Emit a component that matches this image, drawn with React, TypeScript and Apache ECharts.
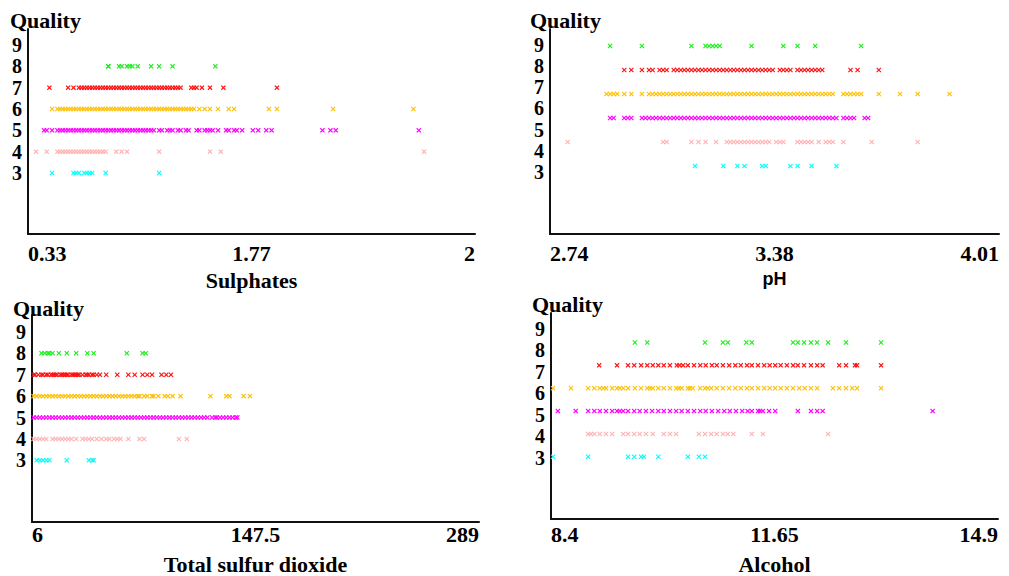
import React, { useEffect, useRef } from "react";
import * as echarts from "echarts";

// ---------- DATA ----------
const qualityLevels = [8, 7, 6, 5, 4, 3];
const qualityTickValues = [3, 4, 5, 6, 7, 8, 9];
const qualityTickLabels = ["3", "4", "5", "6", "7", "8", "9"];

// Sulphates
const sulTickLabels = ["0.33", "1.77", "2"];
const sulQ8 = [0.63, 0.63, 0.67, 0.68, 0.7, 0.71, 0.72, 0.74, 0.79, 0.82, 0.87, 1.03];
const sulQ7 = [0.41, 0.48, 0.5, 0.52, 0.53, 0.54, 0.55, 0.56, 0.57, 0.58, 0.59, 0.6, 0.61, 0.62, 0.63, 0.64, 0.65, 0.66, 0.67, 0.68, 0.69, 0.7, 0.71, 0.72, 0.73, 0.74, 0.75, 0.76, 0.77, 0.78, 0.79, 0.8, 0.81, 0.82, 0.83, 0.84, 0.85, 0.86, 0.87, 0.88, 0.89, 0.9, 0.94, 0.95, 0.96, 0.98, 1.01, 1.06, 1.26];
const sulQ6 = [0.42, 0.44, 0.45, 0.46, 0.47, 0.48, 0.49, 0.5, 0.51, 0.52, 0.53, 0.54, 0.55, 0.56, 0.57, 0.58, 0.59, 0.6, 0.61, 0.62, 0.63, 0.64, 0.65, 0.66, 0.67, 0.68, 0.69, 0.7, 0.71, 0.72, 0.73, 0.74, 0.75, 0.76, 0.77, 0.78, 0.79, 0.8, 0.81, 0.82, 0.83, 0.84, 0.85, 0.86, 0.87, 0.88, 0.89, 0.9, 0.91, 0.92, 0.93, 0.94, 0.95, 0.97, 0.99, 1.01, 1.04, 1.08, 1.1, 1.23, 1.26, 1.47, 1.77];
const sulQ5 = [0.39, 0.4, 0.42, 0.44, 0.45, 0.46, 0.47, 0.48, 0.49, 0.5, 0.51, 0.52, 0.53, 0.54, 0.55, 0.56, 0.57, 0.58, 0.59, 0.6, 0.61, 0.62, 0.63, 0.64, 0.65, 0.66, 0.67, 0.68, 0.69, 0.7, 0.71, 0.72, 0.73, 0.74, 0.75, 0.76, 0.77, 0.78, 0.79, 0.8, 0.82, 0.83, 0.85, 0.86, 0.87, 0.89, 0.9, 0.92, 0.93, 0.96, 0.97, 0.99, 1.0, 1.01, 1.02, 1.04, 1.07, 1.08, 1.1, 1.11, 1.13, 1.17, 1.19, 1.22, 1.24, 1.43, 1.46, 1.48, 1.79];
const sulQ4 = [0.36, 0.4, 0.44, 0.45, 0.46, 0.47, 0.48, 0.49, 0.5, 0.51, 0.52, 0.53, 0.54, 0.55, 0.56, 0.57, 0.58, 0.59, 0.6, 0.61, 0.62, 0.66, 0.68, 0.7, 0.82, 1.01, 1.05, 1.81];
const sulQ3 = [0.42, 0.5, 0.51, 0.52, 0.54, 0.55, 0.56, 0.57, 0.62, 0.82];

// pH
const phTickLabels = ["2.74", "3.38", "4.01"];
const phQ8 = [2.91, 3.0, 3.14, 3.18, 3.19, 3.2, 3.21, 3.22, 3.31, 3.4, 3.44, 3.49, 3.62];
const phQ7 = [2.95, 2.97, 3.0, 3.02, 3.03, 3.05, 3.06, 3.07, 3.09, 3.1, 3.11, 3.12, 3.13, 3.14, 3.15, 3.16, 3.17, 3.18, 3.19, 3.2, 3.21, 3.22, 3.23, 3.24, 3.25, 3.26, 3.27, 3.28, 3.29, 3.3, 3.31, 3.32, 3.33, 3.34, 3.35, 3.36, 3.37, 3.39, 3.4, 3.41, 3.42, 3.44, 3.45, 3.46, 3.47, 3.48, 3.49, 3.5, 3.51, 3.59, 3.61, 3.67];
const phQ6 = [2.9, 2.91, 2.92, 2.93, 2.95, 2.97, 3.0, 3.02, 3.03, 3.04, 3.05, 3.06, 3.07, 3.08, 3.09, 3.1, 3.11, 3.12, 3.13, 3.14, 3.15, 3.16, 3.17, 3.18, 3.19, 3.2, 3.21, 3.22, 3.23, 3.24, 3.25, 3.26, 3.27, 3.28, 3.29, 3.3, 3.31, 3.32, 3.33, 3.34, 3.35, 3.36, 3.37, 3.38, 3.39, 3.4, 3.41, 3.42, 3.43, 3.44, 3.45, 3.46, 3.47, 3.48, 3.49, 3.5, 3.51, 3.52, 3.53, 3.54, 3.57, 3.58, 3.59, 3.6, 3.61, 3.62, 3.67, 3.73, 3.78, 3.87];
const phQ5 = [2.91, 2.92, 2.95, 2.96, 2.97, 3.0, 3.01, 3.02, 3.03, 3.04, 3.05, 3.06, 3.07, 3.08, 3.09, 3.1, 3.11, 3.12, 3.13, 3.14, 3.15, 3.16, 3.17, 3.18, 3.19, 3.2, 3.21, 3.22, 3.23, 3.24, 3.25, 3.26, 3.27, 3.28, 3.29, 3.3, 3.31, 3.32, 3.33, 3.34, 3.35, 3.36, 3.37, 3.38, 3.39, 3.4, 3.41, 3.42, 3.43, 3.44, 3.45, 3.46, 3.47, 3.48, 3.49, 3.5, 3.51, 3.52, 3.53, 3.54, 3.55, 3.57, 3.58, 3.59, 3.6, 3.63, 3.64];
const phQ4 = [2.79, 3.06, 3.07, 3.14, 3.16, 3.18, 3.21, 3.24, 3.25, 3.26, 3.27, 3.28, 3.29, 3.3, 3.31, 3.32, 3.33, 3.34, 3.35, 3.36, 3.38, 3.39, 3.4, 3.44, 3.45, 3.46, 3.47, 3.48, 3.5, 3.52, 3.53, 3.54, 3.57, 3.65, 3.78];
const phQ3 = [3.15, 3.23, 3.27, 3.29, 3.34, 3.35, 3.42, 3.44, 3.48, 3.55];

// Total sulfur dioxide
const tsdTickLabels = ["6", "147.5", "289"];
const tsdQ8 = [12, 14, 16, 17, 19, 23, 28, 34, 41, 45, 66, 76, 78];
const tsdQ7 = [7, 8, 10, 12, 13, 15, 16, 18, 19, 20, 21, 22, 24, 25, 26, 27, 28, 29, 31, 32, 33, 34, 35, 36, 38, 40, 41, 42, 44, 45, 47, 49, 53, 60, 67, 71, 76, 79, 82, 88, 91, 94];
const tsdQ6 = [7, 9, 11, 13, 15, 17, 19, 21, 23, 25, 27, 29, 31, 33, 35, 37, 39, 41, 43, 45, 47, 49, 51, 53, 55, 57, 59, 61, 63, 65, 67, 69, 71, 73, 74, 77, 79, 82, 83, 86, 90, 92, 95, 100, 119, 129, 131, 140, 144];
const tsdQ5 = [7, 9, 11, 13, 15, 17, 19, 21, 23, 25, 27, 29, 31, 33, 35, 37, 39, 41, 43, 45, 47, 49, 51, 53, 55, 57, 59, 61, 63, 65, 67, 69, 71, 73, 75, 77, 79, 81, 83, 85, 87, 89, 91, 93, 95, 97, 99, 101, 103, 105, 107, 109, 111, 113, 115, 117, 120, 122, 123, 125, 127, 129, 131, 133, 135, 136];
const tsdQ4 = [7, 9, 11, 13, 15, 19, 21, 23, 25, 27, 29, 31, 34, 38, 40, 42, 44, 47, 50, 53, 55, 58, 60, 62, 67, 74, 77, 99, 104];
const tsdQ3 = [9, 11, 13, 15, 17, 28, 42, 44, 45];

// Alcohol
const alcTickLabels = ["8.4", "11.65", "14.9"];
const alcQ8 = [9.62, 9.8, 10.64, 10.9, 10.97, 11.24, 11.32, 11.92, 11.99, 12.08, 12.18, 12.27, 12.43, 12.69, 13.2];
const alcQ7 = [9.1, 9.36, 9.52, 9.61, 9.71, 9.8, 9.88, 9.96, 10.04, 10.13, 10.23, 10.27, 10.32, 10.39, 10.48, 10.57, 10.65, 10.74, 10.81, 10.9, 10.99, 11.08, 11.16, 11.25, 11.32, 11.41, 11.5, 11.58, 11.66, 11.74, 11.83, 11.92, 11.99, 12.08, 12.18, 12.27, 12.35, 12.59, 12.69, 12.82, 12.85, 13.2];
const alcQ6 = [8.43, 8.69, 8.94, 9.03, 9.11, 9.16, 9.2, 9.29, 9.36, 9.4, 9.45, 9.52, 9.62, 9.71, 9.8, 9.84, 9.88, 9.96, 10.04, 10.13, 10.22, 10.26, 10.3, 10.39, 10.42, 10.46, 10.57, 10.64, 10.68, 10.73, 10.81, 10.9, 10.99, 11.08, 11.16, 11.25, 11.32, 11.41, 11.5, 11.58, 11.66, 11.74, 11.83, 11.92, 12.01, 12.09, 12.18, 12.27, 12.5, 12.59, 12.69, 12.78, 12.85, 13.2];
const alcQ5 = [8.5, 8.76, 8.94, 9.03, 9.11, 9.2, 9.29, 9.36, 9.4, 9.45, 9.52, 9.61, 9.69, 9.78, 9.87, 9.96, 10.04, 10.13, 10.22, 10.3, 10.39, 10.48, 10.57, 10.65, 10.74, 10.83, 10.92, 11.0, 11.09, 11.18, 11.26, 11.32, 11.41, 11.44, 11.48, 11.57, 11.66, 11.99, 12.18, 12.27, 12.35, 13.95];
const alcQ4 = [8.94, 8.98, 9.03, 9.11, 9.2, 9.29, 9.45, 9.52, 9.61, 9.69, 9.78, 9.88, 10.04, 10.13, 10.22, 10.55, 10.64, 10.73, 10.81, 10.9, 10.97, 11.05, 11.32, 11.48, 12.43];
const alcQ3 = [8.43, 8.94, 9.52, 9.61, 9.71, 9.75, 9.96, 10.39, 10.55, 10.64];

// ---------- STYLE / LAYOUT ----------
const SERIF = '"Liberation Serif", "Times New Roman", serif';
const SANS = '"Liberation Sans", Arial, sans-serif';
const qualityColors: Record<number, string> = {
  8: "#1aef1a",
  7: "#ff1010",
  6: "#ffc000",
  5: "#ff00ff",
  4: "#ffb3b3",
  3: "#00ffff",
};
const CROSS =
  "path://M0,1.6L1.6,0L5,3.4L8.4,0L10,1.6L6.6,5L10,8.4L8.4,10L5,6.6L1.6,10L0,8.4L3.4,5Z";

type Panel = {
  grid: { left: number; top: number; width: number; height: number };
  xMin: number;
  xMax: number;
  tickLabels: string[];
  xName: string;
  xNameFont: string;
  xNameSize: number;
  xNameGap: number;
  xLabelMargin: number;
  yLabelRange: [number, number];
  yDataRange: [number, number];
  title: { left: number; top: number };
  series: number[][];
};

const panels: Panel[] = [
  {
    grid: { left: 28, top: 29, width: 447, height: 205 },
    xMin: 0.33,
    xMax: 2,
    tickLabels: sulTickLabels,
    xName: "Sulphates",
    xNameFont: SERIF,
    xNameSize: 22,
    xNameGap: 35,
    xLabelMargin: 8,
    yLabelRange: [0.14, 9.75],
    yDataRange: [0.14, 9.75],
    title: { left: 10, top: 9 },
    series: [sulQ8, sulQ7, sulQ6, sulQ5, sulQ4, sulQ3],
  },
  {
    grid: { left: 550, top: 29, width: 449, height: 205 },
    xMin: 2.74,
    xMax: 4.01,
    tickLabels: phTickLabels,
    xName: "pH",
    xNameFont: SANS,
    xNameSize: 18,
    xNameGap: 36,
    xLabelMargin: 8,
    yLabelRange: [0.07, 9.75],
    yDataRange: [0.17, 8.71],
    title: { left: 530, top: 9 },
    series: [phQ8, phQ7, phQ6, phQ5, phQ4, phQ3],
  },
  {
    grid: { left: 32, top: 315, width: 447, height: 208 },
    xMin: 6,
    xMax: 289,
    tickLabels: tsdTickLabels,
    xName: "Total sulfur dioxide",
    xNameFont: SERIF,
    xNameSize: 22,
    xNameGap: 31,
    xLabelMargin: 1,
    yLabelRange: [0.12, 9.79],
    yDataRange: [0.12, 9.79],
    title: { left: 13, top: 297 },
    series: [tsdQ8, tsdQ7, tsdQ6, tsdQ5, tsdQ4, tsdQ3],
  },
  {
    grid: { left: 551, top: 313, width: 447, height: 209 },
    xMin: 8.4,
    xMax: 14.9,
    tickLabels: alcTickLabels,
    xName: "Alcohol",
    xNameFont: SERIF,
    xNameSize: 22,
    xNameGap: 34,
    xLabelMargin: 4,
    yLabelRange: [0.16, 9.73],
    yDataRange: [0.28, 9.29],
    title: { left: 532, top: 293 },
    series: [alcQ8, alcQ7, alcQ6, alcQ5, alcQ4, alcQ3],
  },
];

function buildOption() {
  const grid: any[] = [];
  const xAxis: any[] = [];
  const yAxis: any[] = [];
  const series: any[] = [];
  const title: any[] = [];
  const axisLine = { show: true, onZero: false, lineStyle: { color: "#111", width: 2 } };
  const labelOf = (v: number) => qualityTickLabels[qualityTickValues.indexOf(Math.round(v))];
  // split the tick labels over two axes so none gets hidden as "overlapping"
  const oddTicks = qualityTickValues.filter((_, k) => k % 2 === 0);
  const evenTicks = qualityTickValues.filter((_, k) => k % 2 === 1);

  panels.forEach((p, i) => {
    grid.push({ ...p.grid, containLabel: false });
    const tickVals = [p.xMin, (p.xMin + p.xMax) / 2, p.xMax];
    xAxis.push({
      type: "value",
      gridIndex: i,
      min: p.xMin,
      max: p.xMax,
      axisLine,
      axisTick: { show: false },
      splitLine: { show: false },
      axisLabel: {
        customValues: tickVals,
        showMinLabel: true,
        showMaxLabel: true,
        alignMinLabel: "left",
        alignMaxLabel: "right",
        margin: p.xLabelMargin,
        color: "#000",
        fontFamily: SERIF,
        fontWeight: "bold",
        fontSize: 22,
        formatter: (v: number) => {
          let best = 0;
          tickVals.forEach((t, k) => {
            if (Math.abs(t - v) < Math.abs(tickVals[best] - v)) best = k;
          });
          return p.tickLabels[best];
        },
      },
      name: p.xName,
      nameLocation: "middle",
      nameGap: p.xNameGap,
      nameTextStyle: {
        color: "#000",
        fontFamily: p.xNameFont,
        fontWeight: "bold",
        fontSize: p.xNameSize,
      },
    });
    [oddTicks, evenTicks].forEach((ticks, j) => {
      yAxis.push({
        type: "value",
        gridIndex: i,
        position: "left",
        offset: 0,
        min: p.yLabelRange[0],
        max: p.yLabelRange[1],
        axisLine: j === 0 ? axisLine : { show: false },
        axisTick: { show: false },
        splitLine: { show: false },
        axisLabel: {
          customValues: ticks,
          showMinLabel: true,
          showMaxLabel: true,
          margin: 6,
          color: "#000",
          fontFamily: SERIF,
          fontWeight: "bold",
          fontSize: 20,
          lineHeight: 17,
          formatter: labelOf,
        },
      });
    });
    yAxis.push({
      type: "value",
      gridIndex: i,
      position: "left",
      offset: 0,
      min: p.yDataRange[0],
      max: p.yDataRange[1],
      show: false,
      splitLine: { show: false },
    });
    title.push({
      text: "Quality",
      left: p.title.left,
      top: p.title.top,
      padding: 0,
      textStyle: { color: "#000", fontFamily: SERIF, fontWeight: "bold", fontSize: 22 },
    });
    p.series.forEach((vals, k) => {
      const q = qualityLevels[k];
      series.push({
        type: "scatter",
        xAxisIndex: i,
        yAxisIndex: i * 3 + 2,
        symbol: CROSS,
        symbolSize: 5,
        silent: true,
        itemStyle: { color: qualityColors[q], opacity: 1 },
        data: vals.map((v) => [v, q]),
      });
    });
  });

  return {
    animation: false,
    backgroundColor: "#fff",
    title,
    grid,
    xAxis,
    yAxis,
    series,
  };
}

export default function App() {
  const ref = useRef<HTMLDivElement>(null);
  useEffect(() => {
    if (!ref.current) return;
    const chart = echarts.init(ref.current, undefined, { renderer: "svg" });
    chart.setOption(buildOption());
    return () => chart.dispose();
  }, []);
  return (
    <div
      ref={ref}
      style={{ position: "fixed", left: 0, top: 0, width: 1009, height: 576, background: "#fff" }}
    />
  );
}
